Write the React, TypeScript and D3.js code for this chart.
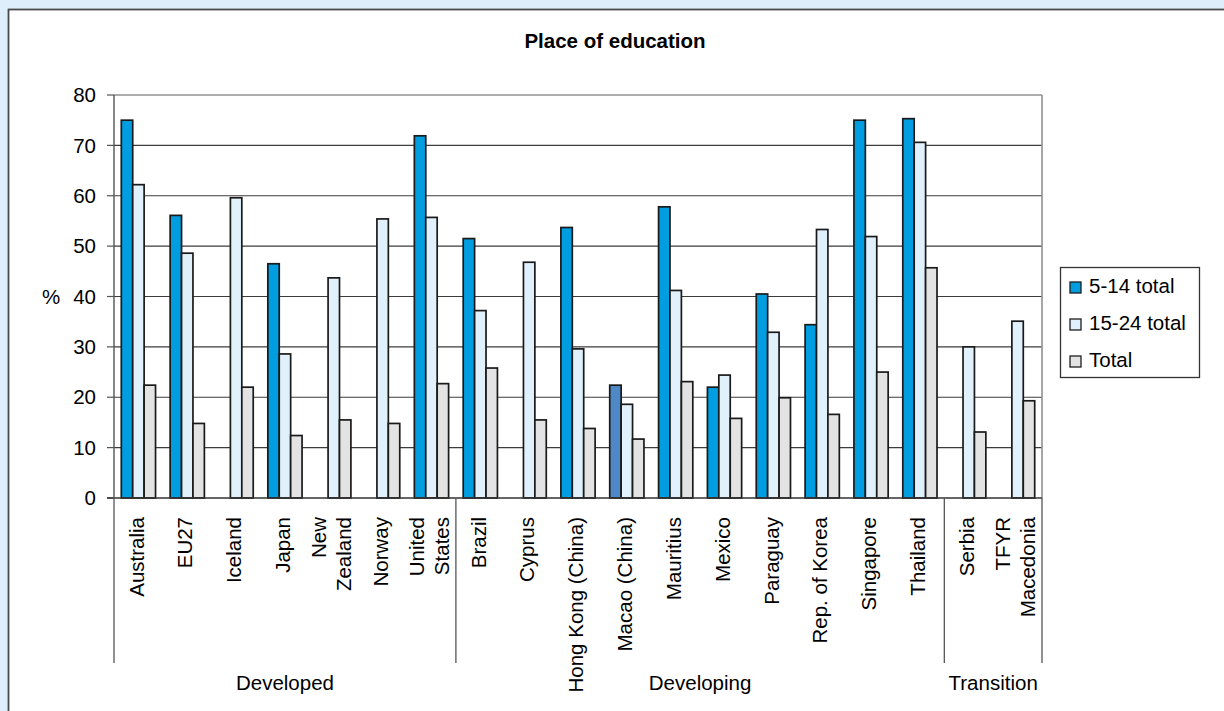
import React from "react";
import * as d3 from "d3";

const categories = [
  "Australia", "EU27", "Iceland", "Japan", "New Zealand", "Norway", "United States",
  "Brazil", "Cyprus", "Hong Kong (China)", "Macao (China)", "Mauritius", "Mexico",
  "Paraguay", "Rep. of Korea", "Singapore", "Thailand",
  "Serbia", "TFYR Macedonia",
];
const labelLines: string[][] = [
  ["Australia"], ["EU27"], ["Iceland"], ["Japan"], ["New", "Zealand"], ["Norway"], ["United", "States"],
  ["Brazil"], ["Cyprus"], ["Hong Kong (China)"], ["Macao (China)"], ["Mauritius"], ["Mexico"],
  ["Paraguay"], ["Rep. of Korea"], ["Singapore"], ["Thailand"],
  ["Serbia"], ["TFYR", "Macedonia"],
];
const seriesNames = ["5-14 total", "15-24 total", "Total"];
const age5to14: (number | null)[] = [75.0, 56.1, null, 46.5, null, null, 71.9, 51.5, null, 53.7, 22.4, 57.8, 22.0, 40.5, 34.4, 75.0, 75.3, null, null];
const age15to24: (number | null)[] = [62.2, 48.6, 59.6, 28.6, 43.7, 55.4, 55.7, 37.2, 46.8, 29.6, 18.6, 41.2, 24.4, 32.9, 53.3, 51.9, 70.6, 30.0, 35.1];
const totalVals: (number | null)[] = [22.4, 14.8, 22.0, 12.4, 15.5, 14.8, 22.7, 25.8, 15.5, 13.8, 11.7, 23.1, 15.8, 19.9, 16.6, 25.0, 45.7, 13.1, 19.3];
const groups = [
  { name: "Developed", from: 0, to: 7 },
  { name: "Developing", from: 7, to: 17 },
  { name: "Transition", from: 17, to: 19 },
];
const yTicks = [0, 10, 20, 30, 40, 50, 60, 70, 80];
const seriesColors = ["#009ee0", "#e0f1fc", "#e3e3e3"];
const specialColor = "#4f88c6"; // Macao 5-14 bar

const W = 1224, H = 711;
const left = 114, right = 1042, top = 95, bottom = 498;
const FONT = "'Liberation Sans', Arial, Helvetica, sans-serif";

export default function App() {
  const x = d3.scaleBand<string>().domain(categories).range([left, right]).paddingInner(0).paddingOuter(0);
  const xs = d3.scaleBand<string>().domain(seriesNames).range([0, x.step()]).paddingInner(0).paddingOuter(0.64);
  const y = d3.scaleLinear().domain([0, 80]).range([bottom, top]);
  const data = [age5to14, age15to24, totalVals];

  const sepXs = [left, ...groups.map((g) => x(categories[g.to - 1])! + x.step())];

  return (
    <svg width={W} height={H} style={{ position: "absolute", left: 0, top: 0, display: "block" }} fontFamily={FONT}>
      <rect x={0} y={0} width={W} height={H} fill="#deeefa" />
      <rect x={8.5} y={9.5} width={W + 20} height={H + 20} fill="#fff" stroke="#4a4a4a" strokeWidth={1.8} />

      <text x={615} y={48} textAnchor="middle" fontWeight="bold" fontSize={20.5} fill="#000">Place of education</text>

      {/* gridlines */}
      {yTicks.filter((t) => t > 0 && t < 80).map((t) => (
        <line key={t} x1={left} x2={right} y1={y(t)} y2={y(t)} stroke="#3c3c3c" strokeWidth={1.2} />
      ))}
      <line x1={left} x2={right} y1={y(80)} y2={y(80)} stroke="#909090" strokeWidth={1.6} />
      <line x1={right} x2={right} y1={y(80)} y2={bottom} stroke="#909090" strokeWidth={1.6} />

      {/* y ticks and labels */}
      {yTicks.map((t) => (
        <g key={"t" + t}>
          <line x1={left - 7} x2={left} y1={y(t)} y2={y(t)} stroke="#555" strokeWidth={1.2} />
          <text x={96} y={y(t)} dy="0.35em" textAnchor="end" fontSize={20.5} fill="#000">{t}</text>
        </g>
      ))}
      <text x={51} y={y(40)} dy="0.35em" textAnchor="middle" fontSize={20.5} fill="#000">%</text>

      {/* bars */}
      {categories.map((c, i) => (
        <g key={c}>
          {data.map((arr, s) => {
            const v = arr[i];
            if (v == null) return null;
            const fill = s === 0 && c === "Macao (China)" ? specialColor : seriesColors[s];
            return (
              <rect key={s} x={x(c)! + xs(seriesNames[s])!} y={y(v)} width={xs.bandwidth()} height={bottom - y(v)}
                fill={fill} stroke="#1a1a1a" strokeWidth={1.7} />
            );
          })}
        </g>
      ))}

      {/* axes */}
      <line x1={left - 7} x2={right} y1={bottom} y2={bottom} stroke="#333" strokeWidth={1.4} />
      <line x1={left} x2={left} y1={top} y2={bottom} stroke="#555" strokeWidth={1.4} />
      {sepXs.map((sx, i) => (
        <line key={"s" + i} x1={sx} x2={sx} y1={bottom} y2={663} stroke="#555" strokeWidth={1.3} />
      ))}

      {/* category labels */}
      {categories.map((c, i) => {
        const lines = labelLines[i];
        const cx = x(c)! + x.step() / 2;
        return lines.map((ln, j) => {
          const off = (j - (lines.length - 1) / 2) * 25 - 2;
          return (
            <text key={c + j} transform={`translate(${cx + off},517) rotate(-90)`} dy="0.35em" textAnchor="end" fontSize={20.5} fill="#000">{ln}</text>
          );
        });
      })}

      {/* group labels */}
      {groups.map((g, i) => (
        <text key={g.name} x={(sepXs[i] + sepXs[i + 1]) / 2} y={690} textAnchor="middle" fontSize={20.5} fill="#000">{g.name}</text>
      ))}

      {/* legend */}
      <rect x={1060.5} y={267.5} width={139} height={110} fill="#fff" stroke="#333" strokeWidth={1.3} />
      {seriesNames.map((s, i) => {
        const base = 293 + i * 37;
        return (
          <g key={s}>
            <rect x={1070} y={base - 11} width={11} height={11} fill={seriesColors[i]} stroke="#1e1e1e" strokeWidth={1.3} />
            <text x={1089} y={base} fontSize={20.5} fill="#000">{s}</text>
          </g>
        );
      })}
    </svg>
  );
}
